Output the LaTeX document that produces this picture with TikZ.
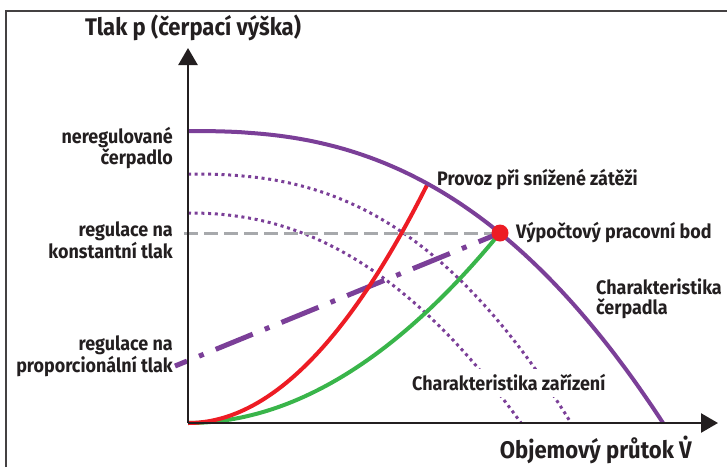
\documentclass[tikz,border=0pt]{standalone}
\usepackage{fontspec}
\setmainfont{Fira Sans}[FakeStretch=0.92]
\usetikzlibrary{arrows.meta}
\definecolor{pumpviolet}{HTML}{7B3F98}
\definecolor{loadred}{HTML}{ED1C24}
\definecolor{sysgreen}{HTML}{39B54A}
\definecolor{refgray}{HTML}{A7A9AC}
\definecolor{inkblack}{HTML}{231F20}
\tikzset{
	lbl/.style={font=\fontsize{19.5}{20}\selectfont\bfseries, text=inkblack, inner sep=0pt},
	ttl/.style={font=\fontsize{24}{26}\selectfont\bfseries, text=inkblack, inner sep=0pt},
	axis/.style={line width=2.5pt, draw=inkblack, -{Triangle[length=17pt,width=19pt]}},
	speedcurve/.style={pumpviolet, line width=3pt, dash pattern=on 3pt off 3.7pt},
}
\begin{document}
\begin{tikzpicture}[x=1pt,y=1pt]
		\useasboundingbox (-188,-44) rectangle (539,423);
		% frame
		\draw[line width=2pt, inkblack!85] (-181.5,-44) -- (-181.5,412) -- (539,412);
		\coordinate (O) at (0,0);
		\coordinate (op) at (312,190);
		\coordinate (pstart) at (-13,57);
		% curves at reduced speed
		\foreach \h/\q/\n in {249/383/2.5,210/333/2.2}{
			\draw[speedcurve] (0,\h) -- plot[domain=0.5:\q,samples=60] (\x,{\h*(1-(\x/\q)^\n)});
		}
		\draw[refgray, line width=3pt, dash pattern=on 14pt off 6pt] (-4,190) -- (op);
		\draw[pumpviolet, line width=5pt, dash pattern=on 40pt off 13pt on 5pt off 13pt, dash phase=27pt] (pstart) -- (op);
		\draw[sysgreen, line width=4pt] plot[domain=0:312,samples=60] (\x,{0.001952*\x*\x});
		\draw[loadred, line width=4pt] plot[domain=0:239,samples=60] (\x,{0.004167*\x*\x});
		\draw[pumpviolet, line width=4pt] (0,292) -- plot[domain=0.5:475,samples=80] (\x,{292*(1-(\x/475)^2.5)});
		% axes
		\draw[axis] (O) -- (0,375);
		\draw[axis] (O) -- (530,0);
		\node[circle, fill=loadred, minimum size=17pt, inner sep=0pt] (opdot) at (op) {};
		\node[ttl] (ytitle) at (5,395) {Tlak p (čerpací výška)};
		\node[ttl, anchor=east] (xtitle) at (504,-27) {Objemový průtok \.{V}};
		\node[lbl, anchor=east, align=right] (unreg) at (-15,275) {neregulované\\čerpadlo};
		\node[lbl, anchor=east, align=right] (const) at (-15,183) {regulace na\\konstantní tlak};
		\node[lbl, anchor=east, align=right] (prop) at (-15,67) {regulace na\\proporcionální tlak};
		\node[lbl, anchor=west] (reduced) at (249,243) {Provoz při snížené zátěži};
		\node[lbl, anchor=west] (duty) at (328,190) {Výpočtový pracovní bod};
		\node[lbl, anchor=west, align=left] (pumpchar) at (408,124) {Charakteristika\\čerpadla};
		\node[lbl, anchor=west, fill=white, inner ysep=6pt] (syschar) at (224,40) {Charakteristika zařízení};
	\end{tikzpicture}
\end{document}
